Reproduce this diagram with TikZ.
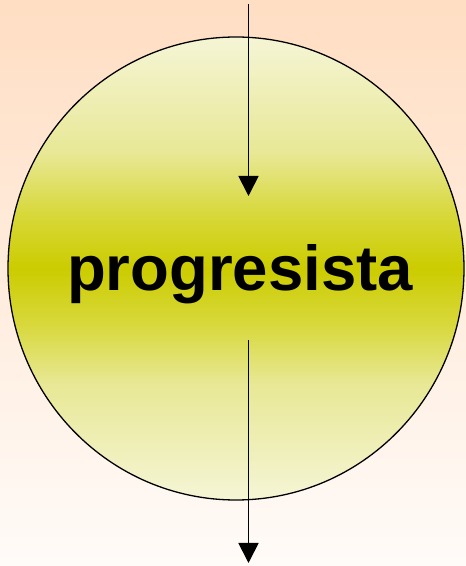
\documentclass[tikz,border=0pt]{standalone}
\usepackage{fontspec}
\setmainfont{Liberation Sans}
\usetikzlibrary{arrows.meta, positioning, shapes.geometric}
\definecolor{bgtop}{RGB}{255,222,195}
\definecolor{bgbot}{RGB}{255,251,248}
\definecolor{olv}{RGB}{204,204,0}
\definecolor{olvmid}{RGB}{216,216,60}
\definecolor{olvlt}{RGB}{232,232,150}
\definecolor{olvpale}{RGB}{245,245,214}
% faixa olivácea no meio do disco
\pgfdeclareverticalshading{banda}{100bp}{color(0bp)=(olvpale); color(25bp)=(olvpale);
  color(37.5bp)=(olvlt); color(44bp)=(olvmid); color(50bp)=(olv); color(56bp)=(olvmid);
  color(62.5bp)=(olvlt); color(75bp)=(olvpale); color(100bp)=(olvpale)}
\tikzset{
  % grande disco central com degradê
  disco/.style={ellipse, draw=black, line width=1.3pt, shading=banda,
                minimum width=456pt, minimum height=463pt, inner sep=0pt},
  ar/.style={-{Triangle[length=20pt, width=20pt]}, line width=1.8pt, draw=black}
}
\begin{document}
\begin{tikzpicture}[x=1pt,y=1pt]
    \useasboundingbox (0,0) rectangle (466,566);
    % --- fundo ---
    \shade[top color=bgtop, bottom color=bgbot] (0,0) rectangle (466,566);

    % --- disco ---
    \node[disco] (prog) at (236,297.5) {};
    \node[font=\fontsize{63.5}{70}\selectfont\bfseries] (txt) at (240,292) {progresista};

    % --- setas ---
    \coordinate (topo) at (248.5,562);
    \coordinate (entra) at (248.5,370);
    \coordinate (sai) at (248.5,226);
    \coordinate (base) at (248.5,3);
    \draw[ar] (topo) -- (entra);
    \draw[ar] (sai) -- (base);
  \end{tikzpicture}
\end{document}
